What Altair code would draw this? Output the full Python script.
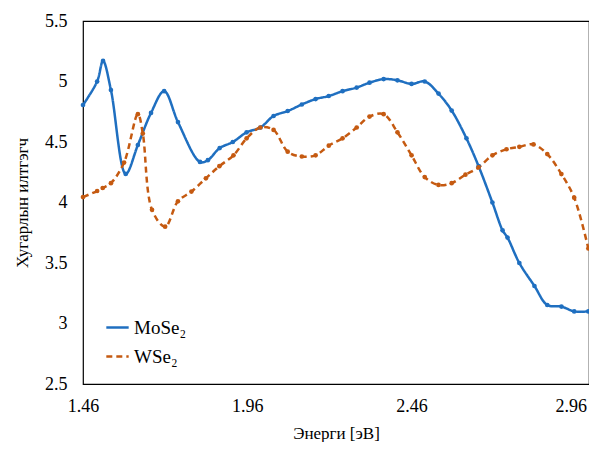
import altair as alt
import pandas as pd

mo_x = [1.46, 1.503, 1.521, 1.545, 1.59, 1.627, 1.667, 1.707, 1.749, 1.816, 1.84, 1.876, 1.916,
        1.958, 2.0, 2.04, 2.083, 2.126, 2.168, 2.208, 2.25, 2.293, 2.332, 2.375, 2.417, 2.46,
        2.5, 2.542, 2.582, 2.627, 2.664, 2.706, 2.737, 2.752, 2.788, 2.834, 2.873, 2.916, 2.955, 2.998]
mo_y = [4.806, 5.0, 5.17, 4.93, 4.236, 4.475, 4.74, 4.92, 4.665, 4.335, 4.35, 4.45, 4.5,
        4.58, 4.62, 4.715, 4.756, 4.81, 4.855, 4.88, 4.92, 4.95, 4.99, 5.02, 5.01, 4.98,
        5.0, 4.9, 4.76, 4.53, 4.3, 4.0, 3.77, 3.71, 3.5, 3.31, 3.153, 3.14, 3.1, 3.1]

w_x = [1.46, 1.503, 1.52, 1.545, 1.585, 1.627, 1.642, 1.67, 1.71, 1.749, 1.79, 1.834, 1.875,
       1.918, 1.958, 2.0, 2.04, 2.083, 2.126, 2.168, 2.208, 2.25, 2.293, 2.332, 2.375, 2.417,
       2.46, 2.5, 2.542, 2.582, 2.624, 2.664, 2.706, 2.749, 2.788, 2.831, 2.873, 2.916, 2.955, 2.998]
w_y = [4.045, 4.095, 4.12, 4.16, 4.33, 4.73, 4.57, 3.94, 3.80, 4.01, 4.09, 4.2, 4.3,
       4.39, 4.53, 4.62, 4.6, 4.42, 4.38, 4.39, 4.47, 4.53, 4.62, 4.71, 4.73, 4.58,
       4.39, 4.21, 4.145, 4.16, 4.23, 4.29, 4.39, 4.44, 4.46, 4.48, 4.40, 4.235, 4.04, 3.62]

series_names = ["MoSe₂", "WSe₂"]
x_ticks = [1.46, 1.96, 2.46, 2.96]
y_ticks = [2.5, 3, 3.5, 4, 4.5, 5, 5.5]

df = pd.concat([
    pd.DataFrame({"x": mo_x, "y": mo_y, "s": series_names[0]}),
    pd.DataFrame({"x": w_x, "y": w_y, "s": series_names[1]}),
])

FONT = "Liberation Serif"
colors = ["#1F6FC0", "#C55A11"]

legend = alt.Legend(title=None, orient="none", legendX=22, legendY=294,
                    symbolType="stroke", symbolSize=500, symbolStrokeWidth=2.5,
                    labelFont=FONT, labelFontSize=19, labelColor="#000", rowPadding=6)

xenc = alt.X("x:Q", scale=alt.Scale(domain=[1.46, 3.0], nice=False, zero=False),
             axis=alt.Axis(values=x_ticks, format=".2f", title="Энерги [эВ]", labelPadding=13,
                           titlePadding=10, labelFont=FONT, titleFont=FONT, labelFlush=False,
                           labelOffset=alt.condition("datum.value > 2.9", alt.value(-5), alt.value(0))))
yenc = alt.Y("y:Q", scale=alt.Scale(domain=[2.5, 5.5], nice=False, zero=False),
             axis=alt.Axis(values=y_ticks, format=".1~f", title="Хугарлын илтгэгч", labelPadding=16,
                           titlePadding=13, labelFont=FONT, titleFont=FONT, labelFlush=False))
color = alt.Color("s:N", scale=alt.Scale(domain=series_names, range=colors), legend=legend)
dash = alt.StrokeDash("s:N", scale=alt.Scale(domain=series_names, range=[[1, 0], [6, 4]]),
                      legend=legend)

chart = alt.Chart(df).mark_line(
    strokeWidth=2.5, interpolate="catmull-rom",
    point=alt.OverlayMarkDef(filled=True, size=22, strokeDash=[1, 0]),
).encode(
    x=xenc, y=yenc, color=color, strokeDash=dash
).properties(
    width=506, height=363,
    autosize=alt.AutoSizeParams(type="none"),
    padding={"left": 75, "top": 13, "right": 0, "bottom": 58},
).configure(
    background="white", font=FONT,
    style={"guide-label": {"font": FONT}, "guide-title": {"font": FONT}},
).configure_view(stroke="#000", strokeWidth=1.2).configure_axis(
    grid=False, ticks=False, domain=False,
    labelFont=FONT, titleFont=FONT, labelFontSize=18, titleFontSize=17,
    labelColor="#000", titleColor="#000", titleFontWeight="normal",
).configure_legend(labelFont=FONT)

chart.save("out.html", embed_options={"renderer": "svg", "actions": False})
